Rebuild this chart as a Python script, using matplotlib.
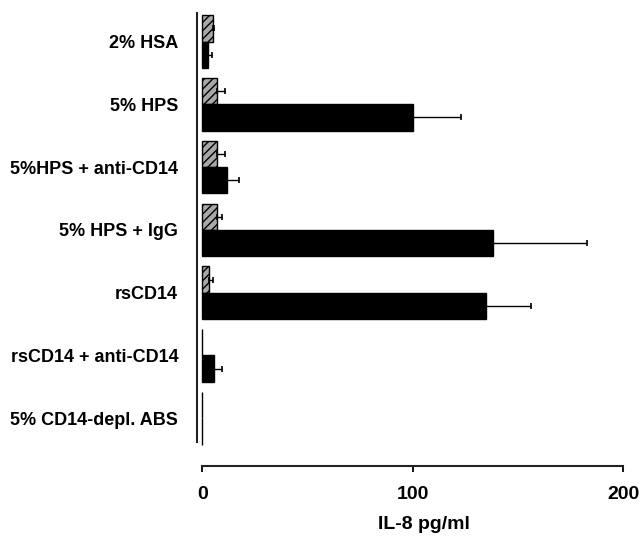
import matplotlib
matplotlib.use("Agg")
import matplotlib.pyplot as plt
import numpy as np

plt.rcParams['font.family'] = ['Liberation Sans', 'DejaVu Sans']
plt.rcParams['hatch.linewidth'] = 1.0

categories = ["2% HSA", "5% HPS", "5%HPS + anti-CD14", "5% HPS + IgG",
              "rsCD14", "rsCD14 + anti-CD14", "5% CD14-depl. ABS"]
hatched_vals = [4.9, 7.0, 7.0, 7.0, 3.2, 0.0, 0.0]
hatched_err = [0.8, 3.8, 3.8, 2.4, 1.9, 0.0, 0.0]
solid_vals = [2.7, 100.0, 11.7, 138.3, 134.8, 5.6, 0.0]
solid_err = [1.9, 22.8, 5.7, 44.4, 21.4, 3.8, 0.0]
xticks = [0, 100, 200]

W, H = 643, 553
fig = plt.figure(figsize=(W / 100, H / 100), dpi=100)
ax = fig.add_axes([197 / W, 1 - 466 / H, 426 / W, 453 / H])

y = np.arange(len(categories))
bh = 0.42

def errs(e):
    e = np.array(e)
    return [np.zeros_like(e), e]

ax.barh(y - bh / 2, hatched_vals, height=bh, color='#a8a8a8', edgecolor='black',
        hatch='////', linewidth=1.0)
ax.barh(y + bh / 2, solid_vals, height=bh, color='black', edgecolor='black',
        linewidth=1.0)

mask_h = np.array(hatched_err) > 0
ax.errorbar(np.array(hatched_vals)[mask_h], (y - bh / 2)[mask_h],
            xerr=[np.zeros(mask_h.sum()), np.array(hatched_err)[mask_h]],
            fmt='none', ecolor='black', elinewidth=1.0, capsize=2.5, capthick=1.2)
mask_s = np.array(solid_err) > 0
ax.errorbar(np.array(solid_vals)[mask_s], (y + bh / 2)[mask_s],
            xerr=[np.zeros(mask_s.sum()), np.array(solid_err)[mask_s]],
            fmt='none', ecolor='black', elinewidth=1.0, capsize=2.5, capthick=1.2)

ax.set_xlim(-2.5, 200)
ax.set_ylim(6.76, -0.454)

for s in ['top', 'right']:
    ax.spines[s].set_visible(False)
ax.spines['left'].set_bounds(-0.454, 6.38)
ax.spines['bottom'].set_bounds(0, 200)
for s in ['left', 'bottom']:
    ax.spines[s].set_linewidth(1.5)
    ax.spines[s].set_color('#222222')

ax.set_yticks(y)
ax.set_yticklabels(categories, fontsize=13, fontweight='bold')
ax.tick_params(axis='y', length=0, pad=13.5)

ax.set_xticks(xticks)
ax.set_xticklabels([str(t) for t in xticks], fontsize=14, fontweight='bold')
ax.tick_params(axis='x', length=4.3, width=1.3, pad=10, direction='out')

ax.set_xlabel("IL-8 pg/ml", fontsize=14, fontweight='bold')
ax.xaxis.set_label_coords(0.533, -0.13)
ax.xaxis.label.set_va('center')

fig.savefig("out.png", dpi=100)
